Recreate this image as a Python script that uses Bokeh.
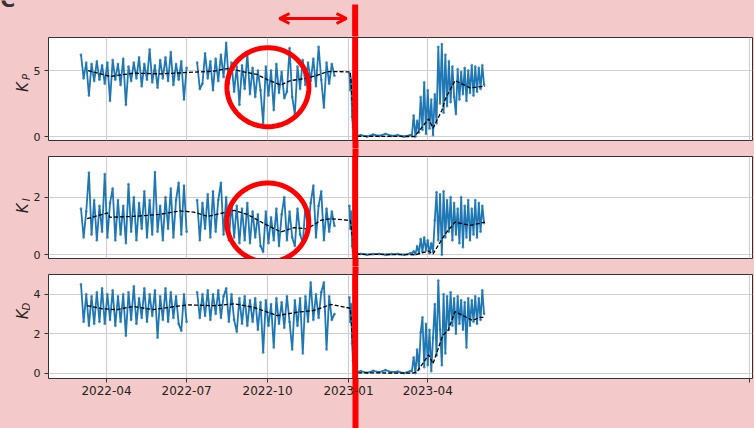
import math
import numpy as np
import pandas as pd
from bokeh.plotting import figure
from bokeh.layouts import column, row
from bokeh.models import (Range1d, FixedTicker, Label, Arrow, OpenHead,
                          PolyAnnotation, Span, DatetimeAxis)
from bokeh.embed import file_html
from bokeh.resources import INLINE

nan = float("nan")

# ---------------- data ----------------
main_start = "2022-03-03"      # every 3 days
jan_start = "2023-01-02"       # daily
zero_start = "2023-01-08"      # weekly
rec_start = "2023-03-14"       # every 2 days

kp_main = [6.2, 4.4, 5.6, 3.1, 5.5, 4.2, 5.7, 4.3, 5.4, 4.0,
           5.6, 2.7, 5.8, 4.3, 5.5, 3.9, 5.9, 2.4, 5.3, 4.2,
           5.6, 4.4, 6.0, 3.8, 5.5, 4.3, 6.6, 4.1, 5.4, 3.7,
           5.8, 4.4, 6.0, 4.2, 6.4, 3.9, 5.5, 4.3, 5.7, 2.8,
           5.2, nan, nan, nan, 5.6, 3.6, 4.0, 6.3, 4.4, 5.7,
           3.5, 5.9, 4.2, 6.2, 4.5, 7.1, 4.0, 5.6, 3.4, 5.3,
           2.4, 5.4, 3.6, 6.3, 3.2, 5.2, 3.0, 5.0, 3.5, 1.0,
           5.3, 3.1, 5.0, 2.0, 5.5, 3.3, 4.9, 2.9, 3.4, 6.7,
           3.0, 1.7, 5.3, 3.6, 5.8, 3.9, 5.6, 4.2, 5.9, 3.8,
           6.8, 4.3, 2.2, 5.6, 4.0, 5.5, 4.6]
ki_main = [1.6, 0.6, 1.5, 2.85, 0.7, 1.9, 0.5, 1.7, 0.8, 2.8,
           0.6, 1.8, 2.3, 0.5, 1.9, 0.7, 1.7, 0.4, 2.45, 0.8,
           2.0, 0.5, 1.8, 0.9, 2.2, 0.6, 1.9, 0.7, 2.87, 0.8,
           1.7, 0.5, 2.0, 0.9, 2.3, 0.6, 1.9, 2.5, 0.7, 2.4,
           0.8, nan, nan, nan, 1.9, 0.5, 1.8, 0.9, 2.1, 0.6,
           2.2, 0.8, 1.9, 2.5, 0.7, 2.0, 0.5, 1.8, 0.6, 1.7,
           0.4, 1.6, 0.5, 1.8, 0.4, 1.5, 0.6, 1.4, 0.3, 0.1,
           1.5, 0.4, 1.3, 0.5, 1.6, 0.3, 1.4, 2.0, 0.5, 1.5,
           0.6, 0.3, 1.6, 0.7, 0.4, 1.7, 0.8, 1.8, 2.4, 0.6,
           1.7, 2.2, 0.5, 1.6, 0.8, 1.5, 1.0]
kd_main = [4.5, 2.6, 4.0, 2.4, 3.9, 2.5, 4.1, 2.6, 4.3, 2.5,
           4.0, 2.7, 4.2, 2.4, 3.9, 2.6, 4.0, 1.9, 4.1, 2.7,
           4.4, 2.5, 3.8, 2.8, 4.3, 2.6, 4.0, 2.9, 4.2, 1.8,
           3.9, 2.7, 4.3, 2.6, 4.1, 2.8, 3.9, 2.5, 2.15, 4.0,
           2.6, nan, nan, nan, 4.1, 2.8, 4.0, 2.9, 4.2, 2.7,
           4.0, 3.0, 4.2, 2.8, 3.9, 4.3, 2.6, 4.0, 2.7, 2.1,
           3.8, 2.5, 3.9, 2.4, 3.7, 2.6, 3.8, 2.2, 3.6, 1.05,
           3.7, 2.4, 3.5, 1.3, 3.8, 2.5, 3.6, 2.3, 3.9, 2.6,
           1.2, 3.7, 2.4, 3.8, 1.0, 3.9, 2.6, 4.6, 2.7, 4.0,
           2.8, 4.1, 4.6, 1.2, 3.9, 2.7, 3.0]

kp_jan = [4.8, 3.5, 4.4, 1.5, 0.7]
ki_jan = [1.7, 0.9, 1.5, 0.3, 0.1]
kd_jan = [3.85, 2.6, 3.5, 1.5, 0.65]

kp_zero = [0.05, 0.1, 0.0, 0.15, 0.05, 0.2, 0.05, 0.1, 0.0, 0.1]
ki_zero = [0.02, 0.03, 0.0, 0.02, 0.03, 0.0, 0.02, 0.03, 0.0, 0.05]
kd_zero = [0.05, 0.1, 0.02, 0.12, 0.05, 0.15, 0.05, 0.08, 0.0, 0.1]

kp_rec = [0.1, 1.6, 0.0, 1.2, 0.3, 3.0, 0.5, 4.1, 0.2, 3.5,
          0.6, 2.8, 0.1, 3.2, 1.0, 6.8, 2.5, 7.0, 1.8, 6.2,
          2.3, 5.7, 2.6, 5.3, 3.0, 1.7, 5.1, 2.8, 4.9, 3.2,
          5.2, 2.7, 5.0, 3.3, 5.4, 3.1, 5.3, 3.4, 5.2, 3.6,
          5.4, 3.9]
ki_rec = [0.05, 0.12, 0.02, 0.3, 0.05, 0.55, 0.1, 0.6, 0.15, 0.5,
          0.05, 0.4, 0.1, 1.2, 2.17, 0.5, 2.1, 0.0, 2.2, 0.6,
          1.9, 0.8, 2.0, 0.5, 1.8, 0.7, 1.6, 0.4, 2.0, 0.26,
          1.7, 0.6, 1.9, 0.5, 1.6, 0.7, 1.9, 0.6, 1.8, 0.8,
          1.7, 1.1]
kd_rec = [0.1, 0.8, 0.0, 1.2, 0.2, 2.07, 2.83, 0.3, 2.5, 0.4,
          2.2, 0.1, 1.8, 3.5, 0.9, 4.69, 2.2, 0.4, 4.0, 1.0,
          3.9, 2.2, 4.1, 2.4, 3.8, 2.0, 3.9, 2.5, 3.7, 2.2,
          3.6, 1.3, 3.8, 2.4, 3.7, 2.6, 3.9, 2.5, 3.8, 2.7,
          4.2, 3.0]

kp_mean_dates = ["2022-03-11", "2022-04-05", "2022-05-02", "2022-06-01", "2022-07-02",
                 "2022-08-01", "2022-08-18", "2022-08-31", "2022-09-19", "2022-10-01",
                 "2022-10-16", "2022-10-27", "2022-11-11", "2022-11-25", "2022-12-08",
                 "2023-01-03", "2023-01-08", "2023-03-17", "2023-04-02", "2023-04-07",
                 "2023-04-17", "2023-04-21", "2023-05-02", "2023-05-19", "2023-06-05"]
kp_mean_vals = [5.0, 4.55, 4.8, 4.75, 4.85, 4.95, 5.17, 4.95, 4.7, 4.3,
                3.9, 4.24, 4.37, 4.6, 4.92, 4.9, 0.02, 0.0, 1.34, 0.63,
                1.97, 2.85, 4.24, 3.69, 3.81]
ki_mean_dates = ["2022-03-10", "2022-04-02", "2022-04-05", "2022-05-01", "2022-05-31",
                 "2022-06-23", "2022-07-09", "2022-07-25", "2022-08-24", "2022-09-08",
                 "2022-09-26", "2022-10-16", "2022-10-31", "2022-11-15", "2022-12-01",
                 "2022-12-12", "2023-01-03", "2023-01-08", "2023-03-18", "2023-04-02",
                 "2023-04-07", "2023-04-21", "2023-05-02", "2023-05-19", "2023-06-05"]
ki_mean_vals = [1.25, 1.45, 1.3, 1.33, 1.4, 1.52, 1.48, 1.33, 1.54, 1.4,
                1.1, 0.79, 0.94, 0.9, 1.2, 1.25, 1.19, 0.02, 0.0, 0.13,
                0.03, 0.73, 1.13, 1.02, 1.13]
kd_mean_dates = ["2022-03-10", "2022-03-28", "2022-04-13", "2022-05-01", "2022-05-24",
                 "2022-06-09", "2022-07-02", "2022-08-01", "2022-08-24", "2022-09-15",
                 "2022-10-12", "2022-11-04", "2022-11-22", "2022-12-12", "2023-01-03",
                 "2023-01-08", "2023-03-15", "2023-03-20", "2023-04-02", "2023-04-07",
                 "2023-04-18", "2023-04-24", "2023-05-02", "2023-05-22", "2023-05-30",
                 "2023-06-05"]
kd_mean_vals = [3.42, 3.26, 3.22, 3.38, 3.22, 3.32, 3.46, 3.42, 3.51, 3.34,
                2.92, 3.09, 3.17, 3.48, 3.29, 0.02, 0.0, 0.08, 0.93, 0.48,
                1.91, 2.16, 3.12, 2.67, 2.83, 2.83]

x_tick_dates = ["2022-04-01", "2022-07-01", "2022-10-01", "2023-01-01", "2023-04-01", "2024-04-01"]
x_tick_labels = ["2022-04", "2022-07", "2022-10", "2023-01", "2023-04", ""]
red_line_date = "2023-01-08 12:00"

# ---------------- build the series ----------------
def series(main, jan, zero, rec):
    d = list(pd.date_range(main_start, periods=len(main), freq="3D"))
    d += [pd.Timestamp("2022-12-26")]
    d += list(pd.date_range(jan_start, periods=len(jan), freq="1D"))
    d += list(pd.date_range(zero_start, periods=len(zero), freq="7D"))
    d += list(pd.date_range(rec_start, periods=len(rec), freq="2D"))
    v = list(main) + [nan] + list(jan) + list(zero) + list(rec)
    return pd.to_datetime(d), np.array(v, dtype=float)

assert len(kp_main) == len(ki_main) == len(kd_main) == 97

PINK = "#f3c9c9"
BLUE = "#1f77b4"
RED = "#ff0000"
DARK = "#333333"
FONT = "DejaVu Sans"
BG = {"background-color": PINK}

X0 = pd.Timestamp("2022-01-25 02:00")
X1 = pd.Timestamp("2024-04-04 00:00")
x_range = Range1d(X0, X1)
X0ms = X0.value / 1e6
X1ms = X1.value / 1e6
FRAME_L, FRAME_R = 48, 752
LAB_W = 30


def xdata(px):
    return X0ms + (px - FRAME_L) / (FRAME_R - FRAME_L) * (X1ms - X0ms)


tick_ms = [int(pd.Timestamp(t).value // 10**6) for t in x_tick_dates]
red_ms = pd.Timestamp(red_line_date).value / 1e6


def bare(width, height, xr, yr):
    f = figure(width=width, height=height, x_range=xr, y_range=yr,
               output_backend="svg", toolbar_location=None,
               x_axis_location=None, y_axis_location=None,
               min_border_left=0, min_border_right=0, min_border_top=0, min_border_bottom=0,
               background_fill_color=PINK, border_fill_color=PINK, outline_line_color=None)
    f.grid.visible = False
    return f


def red_axis(length):
    return DatetimeAxis(ticker=FixedTicker(ticks=[], minor_ticks=[red_ms]),
                        axis_line_color=None, major_tick_out=0, major_tick_in=0,
                        major_label_standoff=0,
                        minor_tick_in=0, minor_tick_out=length,
                        minor_tick_line_color=RED, minor_tick_line_width=6)


# ---------------- header strip (label "C", arrow, top of red line) ----------------
HEAD_H = 36
head = bare(754, HEAD_H, Range1d(xdata(0), xdata(754)), Range1d(HEAD_H, 0))
head.segment(x0=[red_ms], y0=[4], x1=[red_ms], y1=[HEAD_H], line_color=RED, line_width=6)
oh = dict(size=10, line_color=RED, line_width=3)
head.add_layout(Arrow(start=OpenHead(**oh), end=OpenHead(**oh),
                      x_start=xdata(279), y_start=18, x_end=xdata(346), y_end=18,
                      line_color=RED, line_width=3))
head.add_layout(Label(x=xdata(0), y=-1, text="C", text_font=FONT, text_font_style="bold",
                      text_font_size="20px", text_color=DARK,
                      text_align="left", text_baseline="alphabetic"))

panels = [
    dict(sub="P", offset=HEAD_H, height=112, top=1, bottom=8, yr=(-0.30, 7.50), yticks=[0, 5],
         raw=series(kp_main, kp_jan, kp_zero, kp_rec), mean=(kp_mean_dates, kp_mean_vals),
         lab=(22, 90, 25.5, 79), circle=(267.4, 86.7)),
    dict(sub="I", offset=148, height=118, top=8, bottom=8, yr=(-0.13, 3.41), yticks=[0, 2],
         raw=series(ki_main, ki_jan, ki_zero, ki_rec), mean=(ki_mean_dates, ki_mean_vals),
         lab=(22, 208, 25.5, 198), circle=(267.3, 222.0)),
    dict(sub="D", offset=266, height=162, top=8, bottom=50, yr=(-0.27, 5.0), yticks=[0, 2, 4],
         raw=series(kd_main, kd_jan, kd_zero, kd_rec), mean=(kd_mean_dates, kd_mean_vals),
         lab=(22, 328, 25.5, 316), circle=None),
]

rows = [head]
for k, pn in enumerate(panels):
    lo, hi = pn["yr"]
    h = pn["height"]
    ftop = pn["offset"] + pn["top"]
    fbot = pn["offset"] + h - pn["bottom"]

    def ydata(py, lo=lo, hi=hi, ftop=ftop, fbot=fbot):
        return hi - (py - ftop) / (fbot - ftop) * (hi - lo)

    # left strip with the axis title K_sub
    lab = bare(LAB_W, h, Range1d(0, LAB_W), Range1d(h, 0))
    kx, ky, sx, sy = pn["lab"]
    lab.add_layout(Label(x=kx, y=ky - pn["offset"], text="K", angle=math.pi / 2,
                         text_font=FONT, text_font_style="italic",
                         text_font_size="15px", text_color="#222222",
                         text_align="center", text_baseline="middle"))
    lab.add_layout(Label(x=sx, y=sy - pn["offset"], text=pn["sub"], angle=math.pi / 2,
                         text_font=FONT, text_font_style="italic",
                         text_font_size="10px", text_color="#222222",
                         text_align="center", text_baseline="middle"))

    p = figure(width=754 - LAB_W, height=h, x_range=x_range, y_range=Range1d(lo, hi),
               output_backend="svg", toolbar_location=None, x_axis_location=None,
               min_border_left=FRAME_L - LAB_W, min_border_right=754 - FRAME_R,
               min_border_top=pn["top"], min_border_bottom=pn["bottom"],
               background_fill_color="white", border_fill_color=PINK,
               outline_line_color=DARK, outline_line_width=1)

    # y axis
    p.yaxis.ticker = FixedTicker(ticks=pn["yticks"])
    p.yaxis.axis_line_color = None
    p.yaxis.major_tick_in = 0
    p.yaxis.major_tick_out = 4
    p.yaxis.minor_tick_line_color = None
    p.yaxis.major_tick_line_color = DARK
    p.yaxis.major_label_text_font = FONT
    p.yaxis.major_label_text_font_size = "11px"
    p.yaxis.major_label_text_color = "#222222"
    p.yaxis.major_label_standoff = 4

    # x axes: the red line outside the frame is drawn as a tick of these axes
    p.add_layout(red_axis(pn["top"]), "above")
    if k < 2:
        p.add_layout(red_axis(pn["bottom"]), "below")
    else:
        p.add_layout(DatetimeAxis(ticker=FixedTicker(ticks=tick_ms, minor_ticks=[red_ms]),
                                  axis_line_color=None, major_tick_out=4, major_tick_in=0,
                                  major_tick_line_color=DARK,
                                  major_label_overrides={ms: t for ms, t in zip(tick_ms, x_tick_labels)},
                                  major_label_text_font=FONT, major_label_text_font_size="12px",
                                  major_label_text_color="#222222",
                                  major_label_standoff=3 - pn["bottom"] + 4,
                                  minor_tick_in=0, minor_tick_out=pn["bottom"],
                                  minor_tick_line_color=RED, minor_tick_line_width=6), "below")

    p.xgrid.ticker = FixedTicker(ticks=tick_ms)
    p.ygrid.ticker = FixedTicker(ticks=pn["yticks"])
    p.grid.grid_line_color = "#cfcfcf"
    p.grid.grid_line_width = 1.2

    xs, ys = pn["raw"]
    p.line(xs, ys, line_color=BLUE, line_width=1.8)
    p.scatter(xs, ys, size=2, color=BLUE, alpha=0.6)
    md, mv = pn["mean"]
    p.line(pd.to_datetime(md), mv, line_color="black", line_width=1.3, line_dash="4 2")

    p.add_layout(Span(location=red_ms, dimension="height", line_color=RED, line_width=6))

    if pn["circle"] is not None:
        cx, cy = pn["circle"]
        rx, ry = 41.0, 39.5
        ang = np.linspace(0, 2 * np.pi, 91)
        p.add_layout(PolyAnnotation(xs=[xdata(cx + rx * np.cos(a)) for a in ang],
                                    ys=[ydata(cy + ry * np.sin(a)) for a in ang],
                                    fill_alpha=0, line_color=RED, line_alpha=1, line_width=5))

    rows.append(row(lab, p, spacing=0, styles=BG))

layout = column(*rows, spacing=0, styles=BG)
open("out.html", "w").write(file_html(layout, INLINE))
